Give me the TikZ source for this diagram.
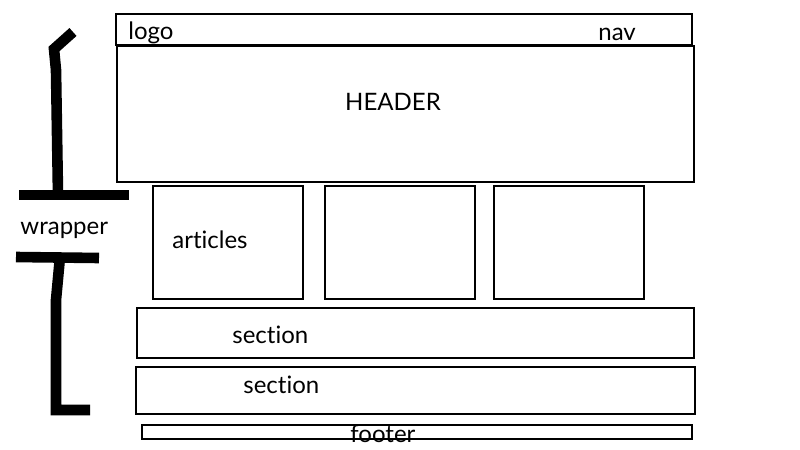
\documentclass[tikz,border=0pt]{standalone}
\usepackage{fontspec}
\setmainfont[Ligatures={NoCommon}]{Lato}
\usetikzlibrary{fit}
\begin{document}
\begin{tikzpicture}[x=0.5pt,y=-0.5pt,
  box/.style={draw=black,line width=1.1pt,inner sep=0pt,fill=none},
  label/.style={font=\fontsize{12}{14}\selectfont,inner sep=0pt},
  brace/.style={line width=5.3pt,line join=miter,line cap=butt}]
\useasboundingbox (0,0) rectangle (800,450);
% layout boxes
\newcommand{\layoutbox}[5]{%
  \path (#2,#3) coordinate (#1-a) (#4,#5) coordinate (#1-b);
  \node[box,fit=(#1-a)(#1-b)] (#1) {};}
\layoutbox{navbar}{116}{14}{692}{45}
\layoutbox{header}{117}{46}{694}{182}
\layoutbox{art1}{153}{186}{303}{299}
\layoutbox{art2}{325}{186}{475}{299}
\layoutbox{art3}{494}{186}{644}{299}
\layoutbox{sec1}{137}{308}{694}{358}
\layoutbox{sec2}{136}{367}{695}{414}
\layoutbox{foot}{142}{425}{692}{439}
% labels
\node[label,anchor=base west] (logo) at (128,39) {logo};
\node[label,anchor=base west] (nav) at (598,40) {nav};
\node[label] (htext) at (393,102) {HEADER};
\node[label,anchor=base west] (arttext) at (172,248) {articles};
\node[label,anchor=base west] (s1text) at (232,343) {section};
\node[label,anchor=base west] (s2text) at (243,393) {section};
\node[label,anchor=base west] (ftext) at (350,442) {footer};
\node[label,anchor=base west] (wrap) at (20,234) {wrapper};
% hand-drawn brace
\draw[brace] (73,32) -- (54,49) -- (56,70) -- (58,195);
\draw[brace] (19,195) -- (129,195);
\draw[brace] (16,257) -- (99,258);
\draw[brace] (60,257) -- (56,300) -- (56,410) -- (90,410);
\end{tikzpicture}
\end{document}
